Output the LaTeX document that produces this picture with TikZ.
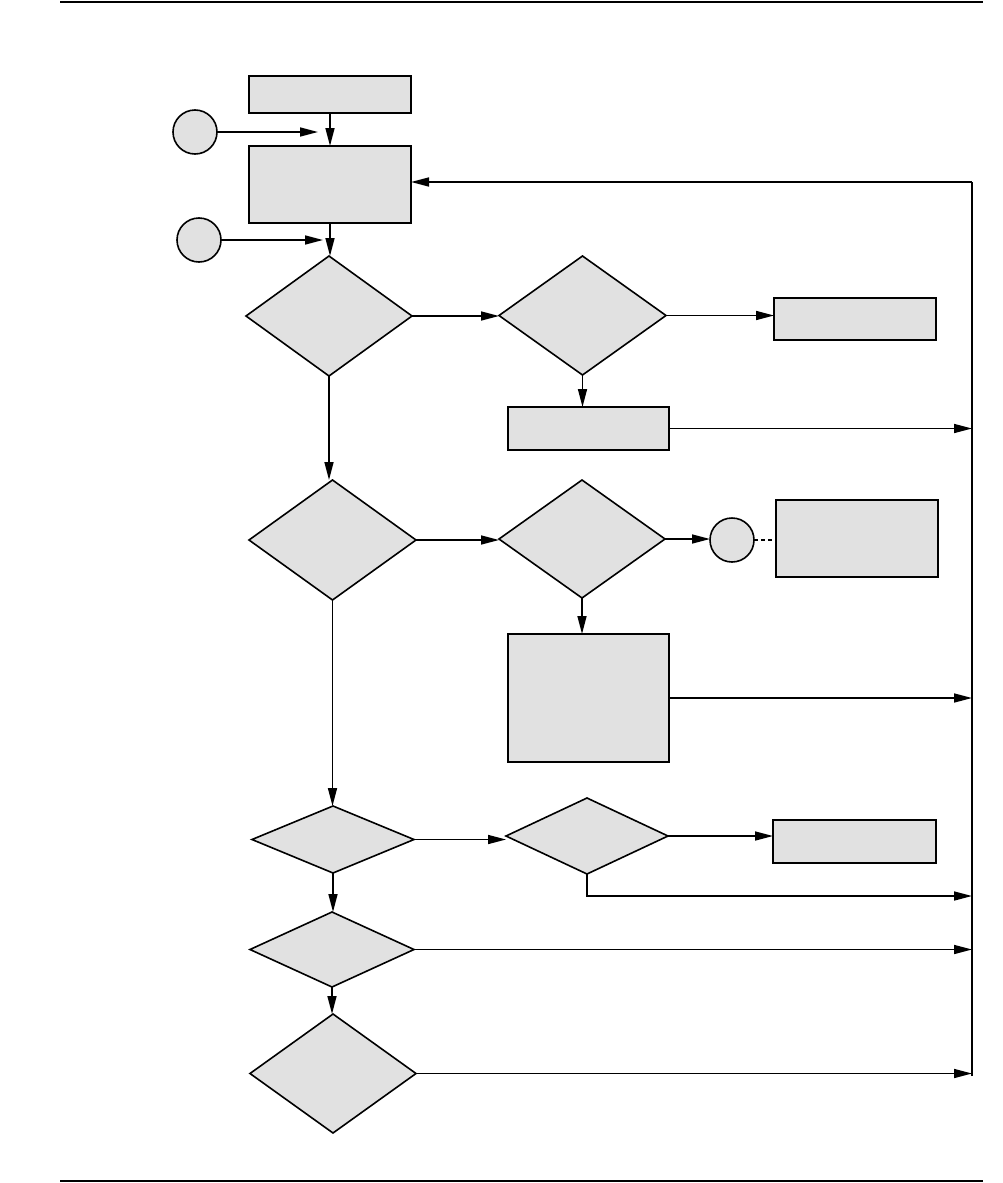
\documentclass[tikz,border=0pt]{standalone}
\usetikzlibrary{shapes.geometric,arrows.meta}
\definecolor{boxgray}{HTML}{E1E1E1}
\begin{document}
\begin{tikzpicture}[x=1pt,y=-1pt,
  shapebase/.style={draw=black,fill=boxgray,line width=1.6pt,inner sep=0pt,outer sep=0pt},
  procbox/.style={shapebase,rectangle},
  decision/.style={shapebase,diamond},
  connector/.style={shapebase,circle,minimum size=44pt},
  flow/.style={line width=1.6pt,-{Triangle[length=18pt,width=9pt]}},
  plain/.style={line width=1.6pt},
  rule/.style={line width=2pt}]
\useasboundingbox (0,0) rectangle (1002,1183);
% page rules
\coordinate (rtl) at (60,2); \coordinate (rtr) at (983,2);
\coordinate (rbl) at (60,1181); \coordinate (rbr) at (983,1181);
\draw[rule] (rtl) -- (rtr);
\draw[rule] (rbl) -- (rbr);
% nodes
\node[procbox,minimum width=162pt,minimum height=37pt] (box1) at (330,94.5) {};
\node[procbox,minimum width=162pt,minimum height=77pt] (box2) at (330,184.5) {};
\node[connector] (c1) at (195,132) {};
\node[connector] (c2) at (199,240) {};
\node[decision,minimum width=166pt,minimum height=120pt] (d1) at (329,316) {};
\node[decision,minimum width=167pt,minimum height=119pt] (d2) at (582.5,315.5) {};
\node[procbox,minimum width=162pt,minimum height=42pt] (br1) at (855,319) {};
\node[procbox,minimum width=161pt,minimum height=43pt] (bm1) at (588.5,428.5) {};
\node[decision,minimum width=167pt,minimum height=120pt] (d3) at (332.5,540) {};
\node[decision,minimum width=166pt,minimum height=118pt] (d4) at (582,539) {};
\node[connector] (c3) at (732,540) {};
\node[procbox,minimum width=162pt,minimum height=77pt] (br2) at (857,538.5) {};
\node[procbox,minimum width=161pt,minimum height=128pt] (bt) at (588.5,698) {};
\node[decision,minimum width=162pt,minimum height=67pt] (d5) at (333,839.5) {};
\node[decision,minimum width=162pt,minimum height=76pt] (d8) at (587,836) {};
\node[procbox,minimum width=163pt,minimum height=43pt] (br3) at (854.5,841.5) {};
\node[decision,minimum width=164pt,minimum height=75pt] (d6) at (332,949.5) {};
\node[decision,minimum width=166pt,minimum height=119pt] (d7) at (333,1073.5) {};
% rail coordinates
\coordinate (railtop) at (972,182);
\coordinate (railbot) at (972,1076);
\coordinate (c1end) at (318,132);
\coordinate (c2end) at (323,240);
\coordinate (d8turn) at (587,896);
% connectors
\draw[flow] (c1.east) -- (c1end);
\draw[flow] (c2.east) -- (c2end);
\draw[flow] (box1.south) -- (box2.north);
\draw[flow] (box2.south) -- (box2.south |- d1.north);
\draw[plain] (railbot) -- (railtop);
\draw[flow] (railtop) -- (railtop -| box2.east);
\draw[flow] (d1.east) -- (d1.east -| d2.west);
\draw[flow] (d2.east) -- (d2.east -| br1.west);
\draw[flow] (d2.south) -- (d2.south |- bm1.north);
\draw[flow] (bm1.east) -- (bm1.east -| railtop);
\draw[flow] (d1.south) -- (d1.south |- d3.north);
\draw[flow] (d3.east) -- (d3.east -| d4.west);
\draw[flow] (d4.east) -- (d4.east -| c3.west);
\draw[plain,dash pattern=on 4pt off 3pt] (c3.east) -- (c3.east -| br2.west);
\draw[flow] (d4.south) -- (d4.south |- bt.north);
\draw[flow] (bt.east) -- (bt.east -| railtop);
\draw[flow] (d3.south) -- (d3.south |- d5.north);
\draw[flow] (d5.east) -- (d5.east -| d8.west);
\draw[flow] (d8.east) -- (d8.east -| br3.west);
\draw[flow] (d8.south) -- (d8turn) -- (d8turn -| railtop);
\draw[flow] (d5.south) -- (d5.south |- d6.north);
\draw[flow] (d6.east) -- (d6.east -| railtop);
\draw[flow] (d6.south) -- (d6.south |- d7.north);
\draw[flow] (d7.east) -- (d7.east -| railtop);
\end{tikzpicture}
\end{document}
